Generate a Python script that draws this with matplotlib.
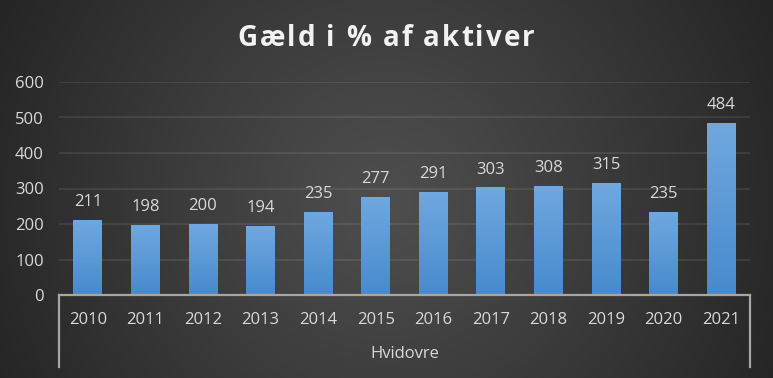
import numpy as np
import matplotlib
matplotlib.use("Agg")
import matplotlib.pyplot as plt

years = ["2010", "2011", "2012", "2013", "2014", "2015", "2016", "2017", "2018", "2019", "2020", "2021"]
values = [211, 198, 200, 194, 235, 277, 291, 303, 308, 315, 235, 484]
group_label = "Hvidovre"
title = "Gæld i % af aktiver"
yticks = [0, 100, 200, 300, 400, 500, 600]

plt.rcParams['font.family'] = ['Open Sans', 'DejaVu Sans']
W, H, DPI = 7.73, 3.78, 100
fig = plt.figure(figsize=(W, H), dpi=DPI)

# background radial gradient
bg = fig.add_axes([0, 0, 1, 1], zorder=0)
nx, ny = 773, 378
xx, yy = np.meshgrid(np.arange(nx), np.arange(ny))
cx, cy = 386, 200
r = np.sqrt((xx - cx) ** 2 + (yy - cy) ** 2) / np.sqrt(386 ** 2 + 189 ** 2)
r = np.clip(r, 0, 1)
v = (78 - (78 - 37) * r ** 1.1) / 255.0
img = np.dstack([v, v, v])
bg.imshow(img, aspect='auto', extent=[0, 1, 0, 1], origin='upper')
bg.set_axis_off()

ax = fig.add_axes([59 / 773, (378 - 295) / 378, (750 - 59) / 773, (295 - 82) / 378], zorder=1)
ax.patch.set_alpha(0)
x = np.arange(len(years))
bars = ax.bar(x, values, width=0.5, color='#5b9bd5', zorder=3)

# gradient fill for bars
grad = np.linspace(0, 1, 256).reshape(-1, 1)
top = np.array([0x70, 0xa8, 0xdf]) / 255
bot = np.array([0x47, 0x8a, 0xcd]) / 255
gimg = (top[None, None, :] * (1 - grad[:, :, None]) + bot[None, None, :] * grad[:, :, None])
for b in bars:
    bx, by = b.get_x(), b.get_y()
    bw, bh = b.get_width(), b.get_height()
    im = ax.imshow(gimg, aspect='auto', extent=[bx, bx + bw, by, by + bh], origin='upper', zorder=4)
    im.set_clip_path(b)
    b.set_facecolor('none')

ax.set_xlim(-0.5, len(years) - 0.5)
ax.set_ylim(0, 600)
ax.set_yticks(yticks)
ax.set_xticks(x)
ax.set_xticklabels(years)
ax.grid(axis='y', color='white', alpha=0.09, linewidth=1.3, zorder=1)
ax.set_axisbelow(True)
for s in ['top', 'right', 'left']:
    ax.spines[s].set_visible(False)
ax.spines['bottom'].set_color('#a6a6a6')
ax.spines['bottom'].set_linewidth(1.6)
ax.spines['bottom'].set_zorder(5)
ax.tick_params(axis='both', length=0, colors='#d9d9d9', labelsize=12)
ax.tick_params(axis='x', pad=12)
ax.tick_params(axis='y', pad=11)

ax.bar_label(bars, labels=[str(v) for v in values], padding=7, color='#d9d9d9', fontsize=12)

# category group bracket
ybr = -(367 - 295) / (295 - 82)
for xe in [0, 1]:
    ax.plot([xe, xe], [0, ybr], transform=ax.transAxes, color='#a6a6a6', lw=1.6, clip_on=False)
ax.text(0.5, -(354 - 295) / (295 - 82), group_label, transform=ax.transAxes, ha='center', va='center',
        color='#d9d9d9', fontsize=12)

# title with letter spacing
renderer = fig.canvas.get_renderer()
tprops = dict(fontsize=20, fontweight='bold', color='#f2f2f2')
def adv(ch):
    t1 = fig.text(0, 0, "H" + ch + "H", **tprops)
    t2 = fig.text(0, 0, "HH", **tprops)
    w = t1.get_window_extent(renderer).width - t2.get_window_extent(renderer).width
    t1.remove(); t2.remove()
    return w
spacing = 2.0
advs = [adv(c) for c in title]
total = sum(advs) + spacing * (len(title) - 1)
xpos = 386 - total / 2
for c, a in zip(title, advs):
    fig.text(xpos / 773, 1 - 38 / 378, c, ha='left', va='center', **tprops)
    xpos += a + spacing

fig.savefig("out.png", dpi=DPI)
